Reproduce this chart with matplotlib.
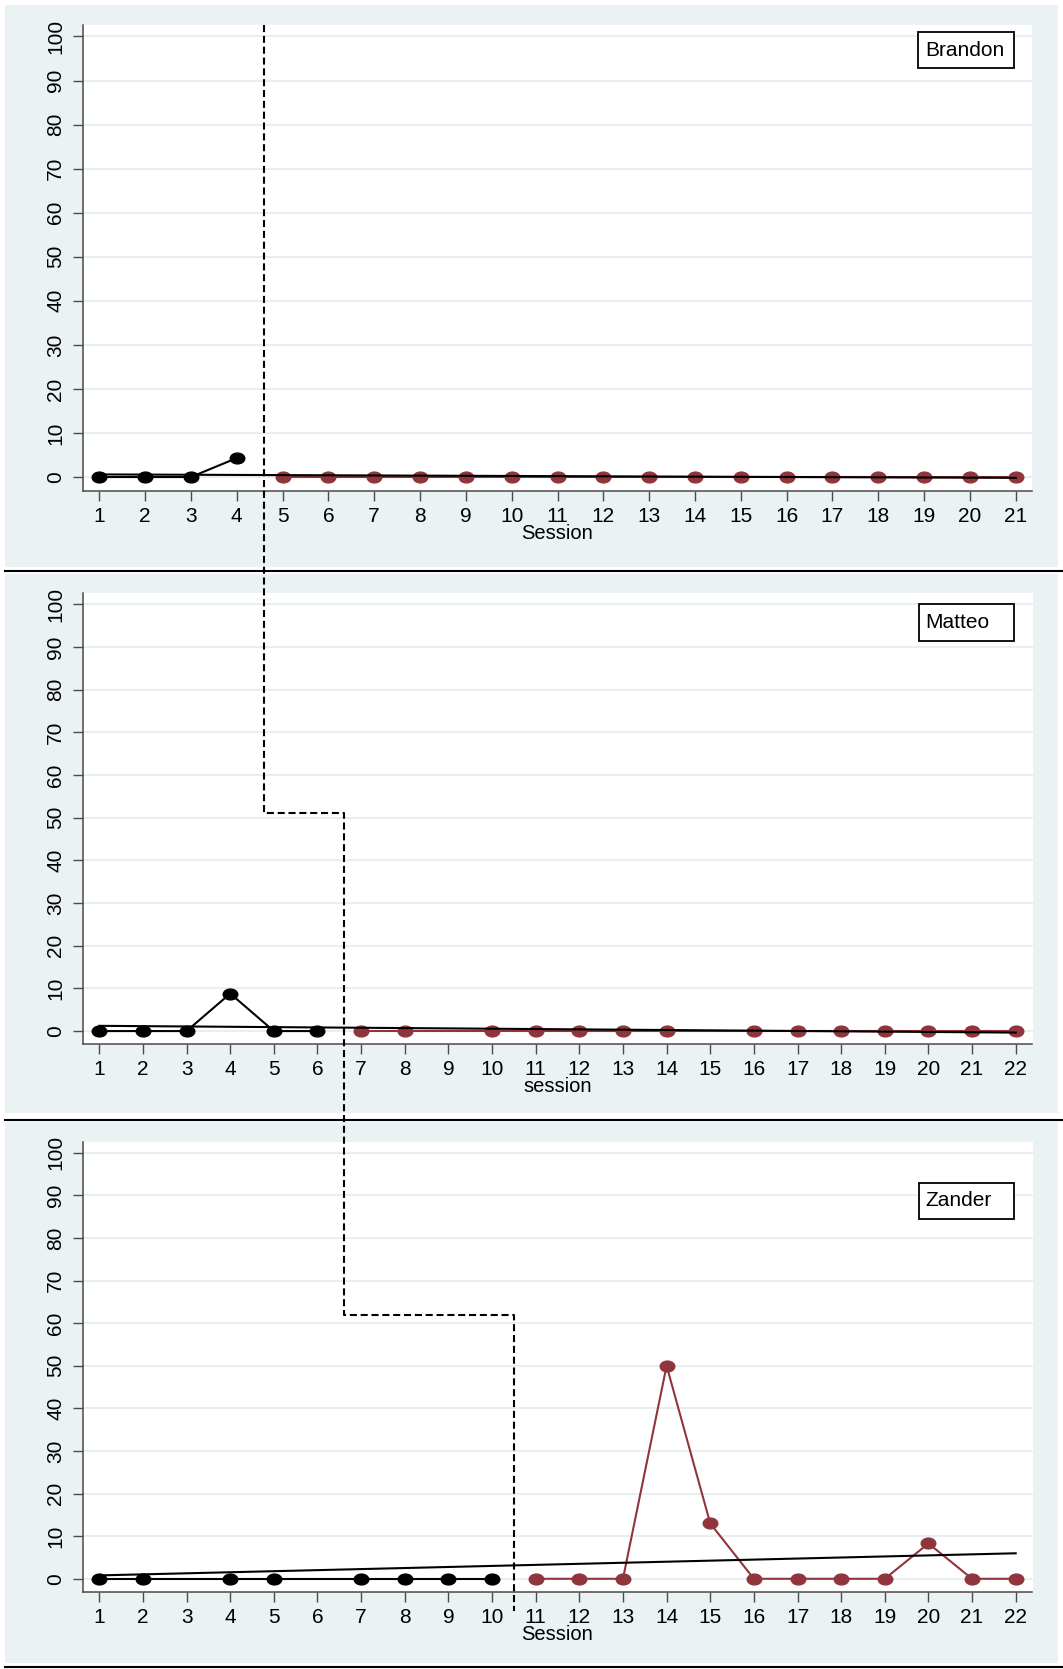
import matplotlib.pyplot as plt
import numpy as np
from matplotlib.lines import Line2D
from matplotlib.patches import Rectangle
from matplotlib.path import Path
from matplotlib.transforms import Affine2D

plt.rcParams['font.family'] = ['Liberation Sans', 'DejaVu Sans']

# percentage per session, baseline (black) and intervention (maroon) phases
brandon_base_x = [1, 2, 3, 4]
brandon_base_y = [0, 0, 0, 4.3]
brandon_treat_x = [5, 6, 7, 8, 9, 10, 11, 12, 13, 14, 15, 16, 17, 18, 19, 20, 21]
brandon_treat_y = [0, 0, 0, 0, 0, 0, 0, 0, 0, 0, 0, 0, 0, 0, 0, 0, 0]

matteo_base_x = [1, 2, 3, 4, 5, 6]
matteo_base_y = [0, 0, 0, 8.8, 0, 0]
matteo_treat_x = [7, 8, 10, 11, 12, 13, 14, 16, 17, 18, 19, 20, 21, 22]
matteo_treat_y = [0, 0, 0, 0, 0, 0, 0, 0, 0, 0, 0, 0, 0, 0]

zander_base_x = [1, 2, 4, 5, 7, 8, 9, 10]
zander_base_y = [0, 0, 0, 0, 0, 0, 0, 0]
zander_treat_x = [11, 12, 13, 14, 15, 16, 17, 18, 19, 20, 21, 22]
zander_treat_y = [0, 0, 0, 50, 13, 0, 0, 0, 0, 8.3, 0, 0]

names = ['Brandon', 'Matteo', 'Zander']
x_titles = ['Session', 'session', 'Session']
last_session = [21, 22, 22]
y_ticks = [0, 10, 20, 30, 40, 50, 60, 70, 80, 90, 100]

# where the phase change line crosses each panel, and the height of its steps
phase_change = [4.6, 6.6, 10.5]
step_level = [51, 62]

panels = [
    (brandon_base_x, brandon_base_y, brandon_treat_x, brandon_treat_y),
    (matteo_base_x, matteo_base_y, matteo_treat_x, matteo_treat_y),
    (zander_base_x, zander_base_y, zander_treat_x, zander_treat_y),
]

BG = '#EAF2F3'
GRID = '#E3ECEE'
MAROON = '#90353B'
AXIS = '#4a4a4a'

W, H = 1063, 1669
fig = plt.figure(figsize=(W / 100, H / 100), dpi=100)


def px_rect(left, top, right, bottom):
    return [left / W, 1 - bottom / H, (right - left) / W, (bottom - top) / H]


# graph regions and the rules between them
for top, bottom in [(5, 567), (574, 1113), (1122, 1663)]:
    fig.add_artist(Rectangle((5 / W, 1 - bottom / H), 1053 / W, (bottom - top) / H,
                             transform=fig.transFigure, facecolor=BG,
                             edgecolor='none', zorder=-2))
for y in [571, 1119.5, 1667.2]:
    fig.add_artist(Line2D([5 / W, 1], [1 - y / H, 1 - y / H],
                          transform=fig.transFigure, color='black', lw=1.5))

plot_boxes = [(82.7, 25, 1032.3, 490.7),
              (82.5, 593.3, 1032.5, 1044.3),
              (82.5, 1141.7, 1032.5, 1592)]
# name box top/bottom as axes fraction
name_boxes = [(0.984, 0.907), (0.976, 0.895), (0.909, 0.828)]

# slightly wide dot
oval = Path.unit_circle().transformed(Affine2D().scale(1.35, 1.0))

axes = []
for i, (bx, by, tx, ty) in enumerate(panels):
    ax = fig.add_axes(px_rect(*plot_boxes[i]))
    axes.append(ax)
    ax.set_facecolor('white')

    ax.plot(bx, by, color='black', lw=1.5, marker=oval, ms=10.5, zorder=3)
    ax.plot(tx, ty, color=MAROON, lw=1.5, marker=oval, ms=10.5, zorder=3)

    # linear fit over both phases
    all_x = np.array(bx + tx, dtype=float)
    all_y = np.array(by + ty, dtype=float)
    slope, icpt = np.polyfit(all_x, all_y, 1)
    n = last_session[i]
    fx = np.array([1, n])
    ax.plot(fx, icpt + slope * fx, color='black', lw=1.5, zorder=4)

    margin = 0.36 if n == 21 else 0.385
    ax.set_xlim(1 - margin, n + margin)
    ax.set_ylim(-3.1, 102.6)
    ax.set_xticks(list(range(1, n + 1)))
    ax.set_yticks(y_ticks)
    ax.grid(axis='y', color=GRID, lw=1.2, zorder=0)
    ax.set_axisbelow(True)

    for side in ['top', 'right']:
        ax.spines[side].set_visible(False)
    for side in ['left', 'bottom']:
        ax.spines[side].set_color(AXIS)
        ax.spines[side].set_linewidth(1.1)
    ax.tick_params(axis='both', direction='out', length=7.5, width=1.0,
                   color=AXIS, labelsize=15, labelcolor='black')
    ax.tick_params(axis='x', pad=4)
    ax.tick_params(axis='y', pad=5, labelrotation=90)
    for lab in ax.get_yticklabels():
        lab.set_va('center')
    ax.set_xlabel(x_titles[i], fontsize=14.5, labelpad=-1.5)

    top, bottom = name_boxes[i]
    ax.add_patch(Rectangle((0.880, bottom), 0.1007, top - bottom,
                           transform=ax.transAxes, facecolor='white',
                           edgecolor='black', lw=1.3, zorder=6, clip_on=False))
    ax.text(0.8875, (top + bottom) / 2, names[i], transform=ax.transAxes,
            fontsize=15, ha='left', va='center', zorder=7)


# phase change line stepping down through the three panels
inv = fig.transFigure.inverted()


def to_fig(ax, x, y):
    return inv.transform(ax.transData.transform((x, y)))


ax1, ax2, ax3 = axes
p0 = to_fig(ax1, phase_change[0], ax1.get_ylim()[1])
p2 = to_fig(ax2, phase_change[1], step_level[0])
p4 = to_fig(ax3, phase_change[2], step_level[1])
y_end = to_fig(ax3, phase_change[2], -7.6)[1]
xs = [p0[0], p0[0], p2[0], p2[0], p4[0], p4[0]]
ys = [p0[1], p2[1], p2[1], p4[1], p4[1], y_end]
fig.add_artist(Line2D(xs, ys, transform=fig.transFigure, color='black',
                      lw=1.5, dashes=(3.4, 1.8), zorder=5))

fig.savefig('out.png', dpi=100)
